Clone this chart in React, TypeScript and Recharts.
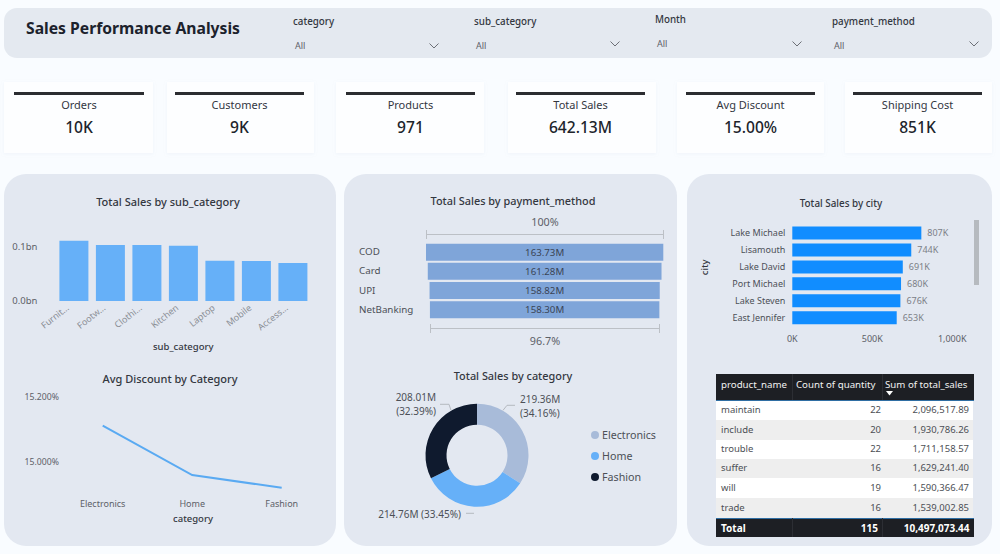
import React from "react";
import {
  Bar,
  BarChart,
  Cell,
  LabelList,
  Legend,
  Line,
  LineChart,
  Pie,
  PieChart,
  XAxis,
  YAxis,
} from "recharts";

const FONT = '"Noto Sans", "Open Sans", sans-serif';
const INK = "#252a33";
const PANEL = "#e3e8f1";

const filterNames = ["category", "sub_category", "Month", "payment_method"];
const kpiNames = ["Orders", "Customers", "Products", "Total Sales", "Avg Discount", "Shipping Cost"];
const kpiValues = ["10K", "9K", "971", "642.13M", "15.00%", "851K"];

const subCategories = ["Furnit...", "Footw...", "Clothi...", "Kitchen", "Laptop", "Mobile", "Access..."];
const subCategorySales = [0.1117, 0.1037, 0.1035, 0.1024, 0.0746, 0.0741, 0.0704];

const discountCategories = ["Electronics", "Home", "Fashion"];
const discountValues = [15.112, 14.961, 14.922];

const paymentMethods = ["COD", "Card", "UPI", "NetBanking"];
const paymentSales = [163.73, 161.28, 158.82, 158.3];

const categories = ["Electronics", "Home", "Fashion"];
const categorySales = [219.36, 214.76, 208.01];
const categoryShares = ["34.16%", "33.45%", "32.39%"];
const categoryColors = ["#a8bbd9", "#66b0f8", "#0f1a2e"];

const cities = ["Lake Michael", "Lisamouth", "Lake David", "Port Michael", "Lake Steven", "East Jennifer"];
const citySales = [807, 744, 691, 680, 676, 653];

const tableHeaders = ["product_name", "Count of quantity", "Sum of total_sales"];
const productNames = ["maintain", "include", "trouble", "suffer", "will", "trade"];
const productCounts = [22, 20, 22, 16, 19, 16];
const productSales = ["2,096,517.89", "1,930,786.26", "1,711,158.57", "1,629,241.40", "1,590,366.47", "1,539,002.85"];
const tableTotals = ["Total", "115", "10,497,073.44"];

const subCategoryRows = subCategories.map((name, i) => ({ name, sales: subCategorySales[i] }));
const discountRows = discountCategories.map((name, i) => ({ name, discount: discountValues[i] }));
const paymentMax = Math.max(...paymentSales);
const paymentRows = paymentMethods.map((name, i) => ({
  name,
  pad: (paymentMax - paymentSales[i]) / 2,
  sales: paymentSales[i],
}));
const categoryRows = categories.map((name, i) => ({ name, sales: categorySales[i], share: categoryShares[i] }));
const cityRows = cities.map((name, i) => ({ name, sales: citySales[i] }));

const filterSpots = [
  { x: 293, y: 22, allY: 45, chevX: 434, chevY: 46 },
  { x: 474, y: 22, allY: 45, chevX: 615, chevY: 44 },
  { x: 655, y: 20, allY: 43, chevX: 797, chevY: 44 },
  { x: 832, y: 22, allY: 45, chevX: 974, chevY: 44 },
];
const cardBoxes = [
  [4, 149, 14, 130],
  [167, 147, 175, 129],
  [336, 148, 346, 129],
  [508, 148, 516, 129],
  [677, 147, 686, 129],
  [845, 147, 853, 129],
];
const labelSpots = [
  { line: "26,-45 30,-50 38,-50", x: 43, y: -52, anchor: "start", two: true },
  { line: "-11,58 -3,58", x: -16, y: 59, anchor: "end", two: false },
  { line: "-37,-51 -28,-51 -26,-45", x: -41, y: -54, anchor: "end", two: true },
];

function Txt(props: { x: number; y: number; size: number; color?: string; weight?: number; align?: string; children: React.ReactNode }) {
  const { x, y, size, color = INK, weight = 400, align = "left", children } = props;
  const shift = align === "center" ? "-50%" : align === "right" ? "-100%" : "0";
  return (
    <div
      style={{
        position: "absolute",
        left: x,
        top: y,
        transform: `translate(${shift}, -50%)`,
        fontSize: size,
        fontWeight: weight,
        color,
        whiteSpace: "nowrap",
        lineHeight: 1,
      }}
    >
      {children}
    </div>
  );
}

function Box(props: { x: number; y: number; w: number; h: number; style?: React.CSSProperties }) {
  return <div style={{ position: "absolute", left: props.x, top: props.y, width: props.w, height: props.h, ...props.style }} />;
}

function Chevron({ x, y }: { x: number; y: number }) {
  return (
    <svg style={{ position: "absolute", left: x - 5, top: y - 3 }} width={10} height={6}>
      <polyline points="0.5,0.5 5,5 9.5,0.5" fill="none" stroke="#5d6168" strokeWidth={0.9} />
    </svg>
  );
}

function Bracket({ x, y, w }: { x: number; y: number; w: number }) {
  return (
    <svg style={{ position: "absolute", left: x, top: y - 4 }} width={w} height={9}>
      <path d={`M0.5 0V9M0.5 4.5H${w - 0.5}M${w - 0.5} 0V9`} fill="none" stroke="#bcc0c6" strokeWidth={1} />
    </svg>
  );
}

function PaymentTick(props: any) {
  return (
    <text x={15} y={props.y} dy={3} textAnchor="start" fontSize={9.8} fill="#4c5057">
      {props.payload.value}
    </text>
  );
}

function DonutLabel(props: any) {
  const spot = labelSpots[props.index];
  const row = categoryRows[props.index];
  const amount = `${row.sales.toFixed(2)}M`;
  const share = `(${row.share})`;
  const points = spot.line
    .split(" ")
    .map((p) => {
      const [dx, dy] = p.split(",").map(Number);
      return `${props.cx + dx},${props.cy + dy}`;
    })
    .join(" ");
  return (
    <g fontSize={10} fill="#4c5057">
      <polyline points={points} fill="none" stroke="#b5b9c0" strokeWidth={1} />
      {spot.two ? (
        <text textAnchor={spot.anchor} x={props.cx + spot.x} y={props.cy + spot.y}>
          <tspan x={props.cx + spot.x}>{amount}</tspan>
          <tspan x={props.cx + spot.x} dy={14}>{share}</tspan>
        </text>
      ) : (
        <text textAnchor={spot.anchor} x={props.cx + spot.x} y={props.cy + spot.y + 4}>
          {`${amount} ${share}`}
        </text>
      )}
    </g>
  );
}

function DonutLegend() {
  return (
    <div>
      {categories.map((name, i) => (
        <div key={name} style={{ display: "flex", alignItems: "center", height: 21, fontSize: 10.7, color: "#4c5057" }}>
          <span style={{ width: 8, height: 8, borderRadius: 4, background: categoryColors[i], marginRight: 3 }} />
          {name}
        </div>
      ))}
    </div>
  );
}

function SalesTable() {
  const rowTops = [400, 419.5, 439.5, 458.5, 478, 498, 518.5];
  const cell: React.CSSProperties = { position: "absolute", top: "50%", transform: "translateY(-50%)", whiteSpace: "nowrap", lineHeight: 1 };
  return (
    <>
      <Box x={716} y={374} w={258} h={26} style={{ background: "#1d1f24" }} />
      <Box x={792} y={374} w={1} h={26} style={{ background: "#2c2e34" }} />
      <Box x={882} y={374} w={1} h={26} style={{ background: "#2c2e34" }} />
      <Txt x={721} y={384.5} size={9.7} color="#f2f2f2">{tableHeaders[0]}</Txt>
      <Txt x={796} y={384.5} size={9.7} color="#f2f2f2">{tableHeaders[1]}</Txt>
      <Txt x={885} y={384.5} size={9.7} color="#f2f2f2">{tableHeaders[2]}</Txt>
      <svg style={{ position: "absolute", left: 886, top: 391 }} width={8} height={5}>
        <polygon points="0,0 7,0 3.5,4.5" fill="#ffffff" />
      </svg>
      {productNames.map((name, i) => (
        <div
          key={name}
          style={{
            position: "absolute",
            left: 716,
            top: rowTops[i],
            width: 257,
            height: rowTops[i + 1] - rowTops[i],
            background: i % 2 === 0 ? "#ffffff" : "#eeeeee",
            fontSize: 9.5,
            color: "#4c4f55",
          }}
        >
          <span style={{ ...cell, left: 5 }}>{name}</span>
          <span style={{ ...cell, right: 92 }}>{productCounts[i]}</span>
          <span style={{ ...cell, right: 4 }}>{productSales[i]}</span>
        </div>
      ))}
      <Box x={716} y={399.5} w={258} h={1} style={{ background: "#2f6ea3" }} />
      <Box x={716} y={518} w={258} h={19} style={{ background: "#1d1f24" }} />
      <Box x={716} y={517.5} w={258} h={1} style={{ background: "#2f6ea3" }} />
      <Box x={792} y={518} w={1} h={19} style={{ background: "#2c2e34" }} />
      <Box x={882} y={518} w={1} h={19} style={{ background: "#2c2e34" }} />
      <Txt x={721} y={528} size={10} color="#ffffff" weight={700}>{tableTotals[0]}</Txt>
      <Txt x={878} y={528} size={10} color="#ffffff" weight={700} align="right">{tableTotals[1]}</Txt>
      <Txt x={969.5} y={528} size={10} color="#ffffff" weight={700} align="right">{tableTotals[2]}</Txt>
    </>
  );
}

export default function App() {
  return (
    <div
      style={{
        position: "absolute",
        left: 0,
        top: 0,
        width: 1000,
        height: 554,
        overflow: "hidden",
        background: "#f9fcff",
        fontFamily: FONT,
      }}
    >
      {/* header band */}
      <Box x={4} y={8} w={988} h={50} style={{ background: "#e4e9f0", borderRadius: 13 }} />
      <Txt x={26} y={28.5} size={15.7} weight={700} color="#1c222c">Sales Performance Analysis</Txt>
      {filterNames.map((name, i) => {
        const s = filterSpots[i];
        return (
          <React.Fragment key={name}>
            <Txt x={s.x} y={s.y} size={9.8} weight={500} color="#33373f">{name}</Txt>
            <Txt x={s.x + 2} y={s.allY} size={9} color="#5d6168">All</Txt>
            <Chevron x={s.chevX} y={s.chevY} />
          </React.Fragment>
        );
      })}

      {/* kpi cards */}
      {kpiNames.map((name, i) => {
        const [x, w, lineX, lineW] = cardBoxes[i];
        const mid = lineX + lineW / 2;
        return (
          <React.Fragment key={name}>
            <Box x={x} y={82} w={w} h={71} style={{ background: "#fdfeff", boxShadow: "0 1px 3px rgba(225,232,242,0.35)" }} />
            <Box x={lineX} y={92} w={lineW} h={3} style={{ background: "#2b2d31" }} />
            <Txt x={mid} y={104} size={11} color="#33373f" align="center">{name}</Txt>
            <Txt x={mid} y={127.5} size={15.6} weight={500} color="#20242b" align="center">{kpiValues[i]}</Txt>
          </React.Fragment>
        );
      })}

      {/* panels */}
      <Box x={4} y={174} w={332} h={372} style={{ background: PANEL, borderRadius: 22 }} />
      <Box x={344} y={174} w={333} h={372} style={{ background: PANEL, borderRadius: 22 }} />
      <Box x={687} y={174} w={305} h={372} style={{ background: PANEL, borderRadius: 22 }} />

      <Txt x={168} y={200.5} size={11} weight={500} color="#33373f" align="center">Total Sales by sub_category</Txt>
      <Txt x={170} y={378} size={11} weight={500} color="#33373f" align="center">Avg Discount by Category</Txt>
      <Txt x={513} y={201} size={10.9} weight={500} color="#33373f" align="center">Total Sales by payment_method</Txt>
      <Txt x={513} y={376} size={10.9} weight={500} color="#33373f" align="center">Total Sales by category</Txt>
      <Txt x={841} y={204} size={9.9} weight={500} color="#33373f" align="center">Total Sales by city</Txt>

      <div style={{ position: "absolute", left: 4, top: 174 }}>
        <BarChart
          width={332}
          height={190}
          data={subCategoryRows}
          barCategoryGap="10.7%"
          margin={{ top: 62.2, right: 25, bottom: 13, left: 0 }}
        >
          <XAxis
            dataKey="name"
            interval={0}
            angle={-38}
            textAnchor="end"
            height={50}
            axisLine={false}
            tickLine={false}
            tick={{ fill: "#8a8e95", fontSize: 9, dx: -8, dy: -5 }}
            label={{ value: "sub_category", position: "insideBottom", offset: 1, fill: "#33373f", fontSize: 9.5, fontWeight: 500 }}
          />
          <YAxis
            width={51.5}
            domain={[0, 0.12]}
            ticks={[0, 0.1]}
            axisLine={false}
            tickLine={false}
            tickMargin={12}
            tickFormatter={(v: number) => `${v.toFixed(1)}bn`}
            tick={{ fill: "#5d6168", fontSize: 9.5 }}
          />
          <Bar dataKey="sales" fill="#66b0f8" isAnimationActive={false} />
        </BarChart>
      </div>

      <div style={{ position: "absolute", left: 4, top: 360 }}>
        <LineChart
          width={332}
          height={186}
          data={discountRows}
          margin={{ top: 36.7, right: 10, bottom: 21, left: 0 }}
        >
          <XAxis
            dataKey="name"
            height={30}
            axisLine={false}
            tickLine={false}
            padding={{ left: 42.7, right: 44.3 }}
            tick={{ fill: "#5d6168", fontSize: 9 }}
            tickMargin={0}
            label={{ value: "category", position: "insideBottom", offset: 3, fill: "#33373f", fontSize: 9.5, fontWeight: 500 }}
          />
          <YAxis
            width={56}
            domain={[14.9, 15.2]}
            ticks={[15, 15.2]}
            axisLine={false}
            tickLine={false}
            tickSize={0}
            tickMargin={1}
            tickFormatter={(v: number) => `${v.toFixed(3)}%`}
            tick={{ fill: "#5d6168", fontSize: 8.7 }}
          />
          <Line dataKey="discount" stroke="#5aaaf2" strokeWidth={2} dot={false} isAnimationActive={false} />
        </LineChart>
      </div>

      <Txt x={545} y={222} size={10.8} color="#5d6168" align="center">100%</Txt>
      <Bracket x={426} y={234} w={238} />
      <div style={{ position: "absolute", left: 344, top: 174 }}>
        <BarChart
          width={333}
          height={180}
          layout="vertical"
          data={paymentRows}
          barCategoryGap="6%"
          margin={{ top: 68.5, right: 13.7, bottom: 34.7, left: 0 }}
        >
          <XAxis type="number" hide domain={[0, paymentMax]} />
          <YAxis type="category" dataKey="name" width={82} interval={0} axisLine={false} tickLine={false} tick={<PaymentTick />} />
          <Bar dataKey="pad" stackId="funnel" fill="none" isAnimationActive={false} />
          <Bar dataKey="sales" stackId="funnel" fill="#7fa5d9" isAnimationActive={false}>
            <LabelList
              dataKey="sales"
              position="center"
              fontSize={9.7}
              fill="#3a4455"
              formatter={(v: number) => `${v.toFixed(2)}M`}
            />
          </Bar>
        </BarChart>
      </div>
      <Bracket x={429.5} y={328} w={230} />
      <Txt x={545} y={341} size={10.8} color="#5d6168" align="center">96.7%</Txt>

      <div style={{ position: "absolute", left: 344, top: 360 }}>
        <PieChart width={333} height={186} margin={{ top: 0, right: 0, bottom: 0, left: 0 }}>
          <Pie
            data={categoryRows}
            dataKey="sales"
            nameKey="name"
            cx={133}
            cy={95.3}
            innerRadius={30.5}
            outerRadius={51.5}
            startAngle={90}
            endAngle={-270}
            stroke="none"
            labelLine={false}
            label={DonutLabel}
            isAnimationActive={false}
          >
            {categoryRows.map((row, i) => (
              <Cell key={row.name} fill={categoryColors[i]} />
            ))}
          </Pie>
          <Legend content={DonutLegend} layout="vertical" wrapperStyle={{ left: 247, top: 64.5, width: 80, bottom: "auto" }} />
        </PieChart>
      </div>

      <div style={{ position: "absolute", left: 687, top: 174 }}>
        <BarChart
          width={305}
          height={180}
          layout="vertical"
          data={cityRows}
          barCategoryGap="12.5%"
          margin={{ top: 50.5, right: 39.8, bottom: 8, left: 0 }}
        >
          <XAxis
            type="number"
            domain={[0, 1000]}
            ticks={[0, 500, 1000]}
            height={20}
            axisLine={false}
            tickLine={false}
            tickMargin={4}
            tickFormatter={(v: number) => `${v.toLocaleString("en-US")}K`}
            tick={{ fill: "#5d6168", fontSize: 9 }}
          />
          <YAxis
            type="category"
            dataKey="name"
            width={105.3}
            axisLine={false}
            tickLine={false}
            tickMargin={1}
            interval={0}
            tick={{ fill: "#4c5057", fontSize: 9 }}
            label={{ value: "city", angle: -90, position: "insideLeft", offset: 18, fill: "#33373f", fontSize: 9.5, fontWeight: 500 }}
          />
          <Bar dataKey="sales" fill="#118dff" isAnimationActive={false}>
            <LabelList
              dataKey="sales"
              position="right"
              offset={6}
              fontSize={9}
              fill="#7c8087"
              formatter={(v: number) => `${v}K`}
            />
          </Bar>
        </BarChart>
      </div>
      <Box x={974} y={220} w={5} h={65} style={{ background: "#b6babf" }} />

      <SalesTable />
    </div>
  );
}
